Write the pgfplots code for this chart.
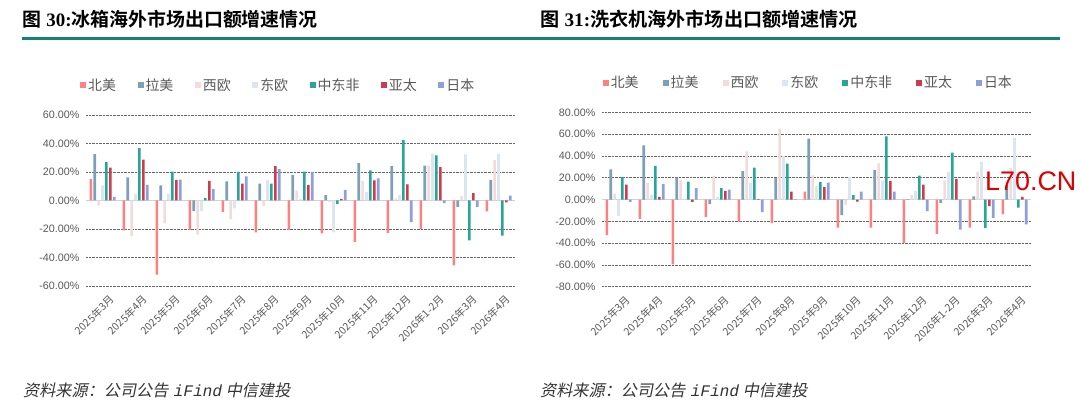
\documentclass[border=0pt]{standalone}
\usepackage{pgfplots}
\pgfplotsset{compat=1.18}
\usepackage{fontspec}
\setmainfont{Liberation Sans}
\newfontfamily\zh{Noto Sans CJK SC}
\newfontfamily\zhb{Noto Sans CJK SC Bold}
\newfontfamily\zhi{Noto Sans CJK SC}[FakeSlant=0.2]
\newfontfamily\monoi{Liberation Mono}[FakeSlant=0.2]
\newfontfamily\tnr{Liberation Serif}
\definecolor{cNA}{RGB}{255,128,128}
\definecolor{cLA}{RGB}{125,160,185}
\definecolor{cWE}{RGB}{242,220,219}
\definecolor{cEE}{RGB}{220,230,242}
\definecolor{cME}{RGB}{38,166,150}
\definecolor{cAP}{RGB}{204,59,78}
\definecolor{cJP}{RGB}{142,160,217}
\definecolor{tickgray}{RGB}{89,89,89}
\definecolor{teal1}{RGB}{20,130,120}
\pgfplotsset{
 mybar/.style={
  scale only axis, width=429bp,
  ybar=1.3bp, bar width=2.6bp,
  xmin=-0.5, xmax=12.5,
  xtick={0,...,12},
  xticklabels={2025年3月,2025年4月,2025年5月,2025年6月,2025年7月,2025年8月,2025年9月,2025年10月,2025年11月,2025年12月,2026年1-2月,2026年3月,2026年4月},
  xticklabel style={rotate=45, anchor=north east, font=\zh\fontsize{10.5}{10.5}\selectfont, text=tickgray, inner sep=1bp, yshift=-9bp},
  yticklabel style={font=\fontsize{10.8}{10.8}\selectfont, text=tickgray, xshift=-3bp},
  axis line style={draw=none},
  major tick length=0,
  ymajorgrids, grid style={densely dotted, black!60, line width=0.7bp},
  extra y ticks={0}, extra y tick labels={},
  extra y tick style={grid style={solid, black!18, line width=1.5bp}},
  legend columns=7,
  legend style={draw=none, fill=none, font=\zh\fontsize{14}{14}\selectfont, text=tickgray, anchor=center},
  legend image code/.code={\fill[##1] (0bp,-3bp) rectangle (6bp,3bp);},
 }
}
\begin{document}
\begin{tikzpicture}[x=1bp,y=1bp]
\path[use as bounding box] (0,0) rectangle (1080,419);
% titles
\node[anchor=base west, inner sep=0] at (22,392) {\fontsize{19}{19}\selectfont{\zhb 图} {\tnr\bfseries 30:}{\zhb 冰箱海外市场出口额增速情况}};
\node[anchor=base west, inner sep=0] at (540,392) {\fontsize{19.2}{19.2}\selectfont{\zhb 图} {\tnr\bfseries 31:}{\zhb 洗衣机海外市场出口额增速情况}};
\draw[teal1, line width=3bp] (22,380.5) -- (1060,380.5);
% sources
\node[anchor=base west, inner sep=0, text=black!80] at (23,23) {\fontsize{16.2}{16.2}\selectfont{\zhi 资料来源：公司公告} {\monoi iFind} {\zhi 中信建投}};
\node[anchor=base west, inner sep=0, text=black!80] at (540,23) {\fontsize{16.2}{16.2}\selectfont{\zhi 资料来源：公司公告} {\monoi iFind} {\zhi 中信建投}};

\begin{axis}[mybar, at={(86bp,133bp)}, anchor=south west, height=171bp,
  ymin=-60, ymax=60, ytick={-60,-40,...,60},
  yticklabels={-60.00\%,-40.00\%,-20.00\%,0.00\%,20.00\%,40.00\%,60.00\%},
  legend style={at={(0.448,1.175)}, /tikz/every even column/.append style={column sep=19.5bp}}]
\addplot[fill=cNA, draw=none] coordinates {(0,15) (1,-21) (2,-52) (3,-20.7) (4,-8) (5,-22.3) (6,-20.7) (7,-23) (8,-29) (9,-22.8) (10,-20) (11,-45.6) (12,-7.7)};
\addplot[fill=cLA, draw=none] coordinates {(0,32.6) (1,16.3) (2,10.7) (3,-7.5) (4,13.5) (5,11.9) (6,18) (7,3.7) (8,26.3) (9,24.2) (10,24.4) (11,-4.4) (12,14.4)};
\addplot[fill=cWE, draw=none] coordinates {(0,-3.5) (1,-25) (2,-15.8) (3,-24) (4,-13) (5,-4) (6,7) (7,-1) (8,13.7) (9,1.4) (10,24.4) (11,3) (12,28.4)};
\addplot[fill=cEE, draw=none] coordinates {(0,10.7) (1,4.7) (2,4.7) (3,-7.5) (4,-5.6) (5,14.4) (6,1.2) (7,-22.3) (8,5.8) (9,3.7) (10,32.8) (11,32.3) (12,32.8)};
\addplot[fill=cME, draw=none] coordinates {(0,27) (1,36.7) (2,20.2) (3,1.6) (4,20) (5,11.9) (6,20.3) (7,-2.6) (8,21.2) (9,42.6) (10,31.6) (11,-27.9) (12,-24.7)};
\addplot[fill=cAP, draw=none] coordinates {(0,23) (1,28.6) (2,14.4) (3,13.7) (4,11.9) (5,24.2) (6,11) (7,1.2) (8,14.2) (9,11.4) (10,23.5) (11,5.1) (12,-1.4)};
\addplot[fill=cJP, draw=none] coordinates {(0,2.5) (1,11) (2,14.7) (3,8) (4,17) (5,22) (6,20) (7,7.4) (8,15.6) (9,-15.1) (10,-1.9) (11,-4.4) (12,3.5)};
\legend{北美,拉美,西欧,东欧,中东非,亚太,日本}
\end{axis}

\begin{axis}[mybar, at={(602bp,132.3bp)}, anchor=south west, height=174.3bp,
  ymin=-80, ymax=80, ytick={-80,-60,...,80},
  yticklabels={-80.00\%,-60.00\%,-40.00\%,-20.00\%,0.00\%,20.00\%,40.00\%,60.00\%,80.00\%},
  legend style={at={(0.481,1.17)}, /tikz/every even column/.append style={column sep=22bp}}]
\addplot[fill=cNA, draw=none] coordinates {(0,-32.7) (1,-17.7) (2,-59.6) (3,-15.9) (4,-20.2) (5,-21.7) (6,7.3) (7,-25.7) (8,-25.7) (9,-39.8) (10,-31.5) (11,-25.7) (12,-13.5)};
\addplot[fill=cLA, draw=none] coordinates {(0,27.8) (1,49.8) (2,20.2) (3,-4.3) (4,26) (5,19.9) (6,56) (7,-14.4) (8,26.9) (9,0.5) (10,-3) (11,3) (12,13.1)};
\addplot[fill=cWE, draw=none] coordinates {(0,5.5) (1,15) (2,18.3) (3,21.7) (4,44.3) (5,65.1) (6,22.3) (7,-5.2) (8,33.3) (9,4) (10,17.4) (11,25.7) (12,29)};
\addplot[fill=cEE, draw=none] coordinates {(0,-15) (1,4.3) (2,0.3) (3,2.4) (4,15.3) (5,40) (6,12.2) (7,20.5) (8,17.4) (9,8) (10,25.4) (11,34.6) (12,56.6)};
\addplot[fill=cME, draw=none] coordinates {(0,20.5) (1,30.9) (2,16.5) (3,10.4) (4,29.4) (5,33) (6,15.9) (7,4) (8,58.1) (9,22) (10,43.1) (11,-26.3) (12,-7.3)};
\addplot[fill=cAP, draw=none] coordinates {(0,13.8) (1,2.4) (2,-2.1) (3,8) (4,0.3) (5,7.3) (6,11.3) (7,-1.8) (8,17.1) (9,13.8) (10,19) (11,-6.1) (12,2.4)};
\addplot[fill=cJP, draw=none] coordinates {(0,-2.1) (1,14.4) (2,10.4) (3,9.2) (4,-11.6) (5,0.3) (6,15.6) (7,7.3) (8,7.3) (9,-10.7) (10,-27.5) (11,-16.8) (12,-22.9)};
\legend{北美,拉美,西欧,东欧,中东非,亚太,日本}
\end{axis}
\node[anchor=base west, inner sep=0, text={rgb,255:red,220;green,0;blue,0}] at (985,229) {\fontsize{27}{27}\selectfont L70.CN};
\end{tikzpicture}
\end{document}
